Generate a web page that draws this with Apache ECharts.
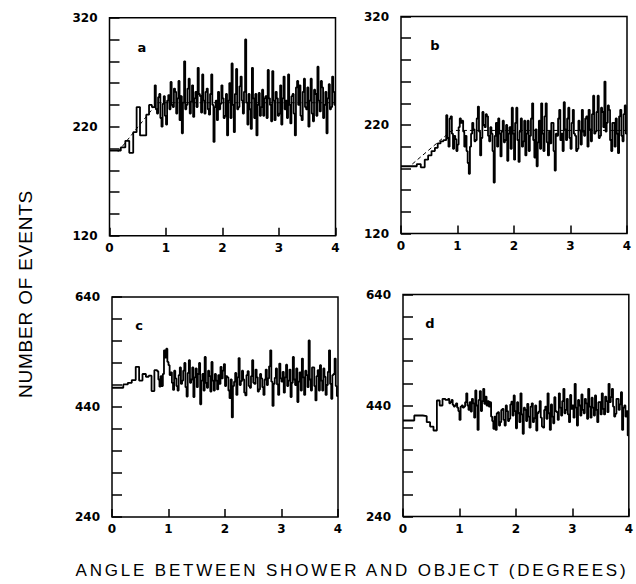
<!DOCTYPE html>
<html>
<head>
<meta charset="utf-8">
<script src="https://cdn.jsdelivr.net/npm/echarts@6/dist/echarts.min.js"></script>
<style>
html, body { margin: 0; padding: 0; background: #fff; }
#main { width: 636px; height: 584px; }
</style>
</head>
<body>
<div id="main"></div>
<script>
// bin left edges (degrees), last entry closes the final bin
let binEdges = [0, 0.2, 0.28, 0.35, 0.42, 0.48, 0.54, 0.6, 0.65, 0.7, 0.75,
    0.8, 0.82, 0.84, 0.86, 0.88, 0.9, 0.92, 0.94, 0.96, 0.98,
    1.0, 1.02, 1.04, 1.06, 1.08, 1.1, 1.12, 1.14, 1.16, 1.18,
    1.2, 1.22, 1.24, 1.26, 1.28, 1.3, 1.32, 1.34, 1.36, 1.38,
    1.4, 1.42, 1.44, 1.46, 1.48, 1.5, 1.52, 1.54, 1.56, 1.58,
    1.6, 1.62, 1.64, 1.66, 1.68, 1.7, 1.72, 1.74, 1.76, 1.78,
    1.8, 1.82, 1.84, 1.86, 1.88, 1.9, 1.92, 1.94, 1.96, 1.98,
    2.0, 2.02, 2.04, 2.06, 2.08, 2.1, 2.12, 2.14, 2.16, 2.18,
    2.2, 2.22, 2.24, 2.26, 2.28, 2.3, 2.32, 2.34, 2.36, 2.38,
    2.4, 2.42, 2.44, 2.46, 2.48, 2.5, 2.52, 2.54, 2.56, 2.58,
    2.6, 2.62, 2.64, 2.66, 2.68, 2.7, 2.72, 2.74, 2.76, 2.78,
    2.8, 2.82, 2.84, 2.86, 2.88, 2.9, 2.92, 2.94, 2.96, 2.98,
    3.0, 3.02, 3.04, 3.06, 3.08, 3.1, 3.12, 3.14, 3.16, 3.18,
    3.2, 3.22, 3.24, 3.26, 3.28, 3.3, 3.32, 3.34, 3.36, 3.38,
    3.4, 3.42, 3.44, 3.46, 3.48, 3.5, 3.52, 3.54, 3.56, 3.58,
    3.6, 3.62, 3.64, 3.66, 3.68, 3.7, 3.72, 3.74, 3.76, 3.78,
    3.8, 3.82, 3.84, 3.86, 3.88, 3.9, 3.92, 3.94, 3.96, 3.98,
    4.0]

let eventsA = [198, 201, 207, 196, 215, 238, 212, 212, 231, 240, 238,
    258, 236, 232, 247, 250, 228, 220, 241, 248, 230,
    222, 244, 249, 236, 261, 240, 238, 255, 252, 232,
    246, 262, 226, 248, 214, 242, 280, 236, 240, 255,
    264, 232, 243, 258, 229, 246, 252, 238, 274, 250,
    248, 233, 268, 244, 232, 252, 255, 236, 231, 250,
    268, 240, 206, 238, 244, 226, 252, 236, 241, 258,
    246, 228, 230, 250, 212, 244, 260, 228, 278, 240,
    215, 250, 273, 236, 238, 257, 266, 244, 232, 252,
    300, 242, 222, 250, 236, 218, 274, 246, 228, 250,
    212, 240, 251, 230, 238, 254, 230, 246, 248, 228,
    272, 246, 240, 225, 271, 244, 226, 252, 246, 230,
    232, 258, 222, 246, 266, 236, 244, 228, 268, 240,
    223, 248, 250, 232, 212, 256, 262, 240, 258, 230,
    226, 252, 264, 238, 236, 256, 220, 244, 264, 232,
    225, 254, 250, 230, 275, 244, 234, 262, 256, 228,
    240, 252, 214, 246, 259, 236, 238, 266, 252, 240]

let eventsB = [182, 182, 184, 181, 188, 192, 196, 199, 203, 205, 206,
    229, 208, 200, 226, 228, 212, 198, 210, 207, 196,
    202, 218, 226, 222, 224, 214, 200, 210, 196, 185,
    175, 200, 212, 222, 216, 205, 206, 226, 237, 214,
    192, 208, 232, 220, 218, 230, 228, 210, 205, 218,
    212, 196, 167, 210, 222, 200, 226, 212, 191, 214,
    224, 204, 206, 220, 187, 212, 218, 198, 236, 212,
    188, 222, 236, 206, 186, 214, 226, 200, 205, 224,
    192, 212, 224, 196, 210, 226, 240, 206, 190, 216,
    182, 204, 224, 198, 240, 212, 196, 228, 240, 204,
    192, 214, 203, 222, 222, 196, 178, 212, 210, 226,
    234, 206, 212, 196, 241, 216, 206, 226, 236, 208,
    198, 222, 234, 212, 210, 196, 198, 224, 215, 202,
    234, 214, 210, 226, 228, 200, 234, 216, 205, 230,
    247, 212, 214, 232, 247, 208, 210, 236, 232, 218,
    260, 214, 222, 238, 234, 206, 196, 222, 222, 200,
    226, 212, 194, 228, 234, 210, 205, 230, 238, 212]

let eventsC = [475, 481, 484, 489, 513, 488, 500, 495, 497, 469, 507,
    505, 490, 477, 496, 478, 500, 543, 530, 546, 522,
    516, 498, 503, 484, 471, 506, 492, 478, 470, 498,
    512, 482, 488, 506, 520, 476, 459, 502, 525, 484,
    490, 512, 458, 494, 510, 476, 500, 520, 445, 488,
    500, 470, 531, 484, 475, 506, 496, 468, 522, 488,
    470, 500, 488, 472, 498, 482, 513, 492, 506, 518,
    478, 496, 494, 470, 456, 490, 421, 478, 486, 502,
    462, 494, 529, 480, 487, 506, 490, 466, 461, 498,
    505, 478, 475, 496, 525, 484, 482, 508, 494, 468,
    472, 500, 492, 476, 462, 490, 508, 480, 492, 514,
    543, 486, 442, 482, 493, 510, 481, 462, 519, 492,
    486, 504, 466, 494, 517, 478, 488, 508, 458, 484,
    531, 490, 480, 510, 449, 486, 503, 470, 528, 494,
    462, 506, 498, 476, 561, 490, 470, 512, 512, 478,
    452, 496, 507, 470, 516, 488, 470, 510, 495, 462,
    480, 504, 543, 482, 455, 498, 500, 528, 478, 460]

let eventsD = [413, 422, 422, 421, 410, 402, 395, 449, 440, 452, 450,
    452, 444, 446, 450, 441, 438, 440, 444, 436, 430,
    414, 438, 440, 436, 438, 446, 462, 440, 432, 446,
    429, 452, 444, 418, 467, 440, 396, 450, 466, 430,
    448, 470, 443, 456, 440, 448, 438, 446, 420, 412,
    398, 420, 396, 426, 428, 404, 410, 432, 434, 414,
    404, 440, 430, 412, 416, 442, 447, 422, 458, 430,
    399, 446, 426, 410, 462, 424, 389, 436, 432, 412,
    443, 420, 400, 438, 444, 410, 417, 440, 395, 426,
    429, 448, 418, 402, 400, 432, 438, 416, 462, 426,
    396, 442, 420, 408, 455, 430, 428, 414, 462, 436,
    422, 448, 470, 426, 432, 452, 424, 410, 459, 434,
    440, 418, 479, 436, 404, 450, 440, 422, 460, 432,
    426, 452, 444, 416, 470, 438, 418, 454, 436, 422,
    458, 432, 410, 446, 446, 424, 462, 434, 424, 456,
    448, 428, 479, 446, 455, 470, 438, 420, 425, 452,
    452, 432, 442, 464, 396, 436, 440, 420, 430, 386]

// expected background (dashed)
let expectedAX = [0.15, 0.85, 4]
let expectedAY = [197, 242, 242]
let expectedBX = [0.2, 0.9, 4]
let expectedBY = [184, 215, 215]

let xTicks = [0, 1, 2, 3, 4]
let yLabelsTop = [120, 220, 320]
let yLabelsBottom = [240, 440, 640]
let panelNames = ['a', 'b', 'c', 'd']

function histPoints(values) {
    let pts = []
    binEdges.forEach(function (x, i) {
        pts.push([x, values[Math.min(i, values.length - 1)]])
    })
    return pts
}

function pairPoints(xs, ys) {
    return xs.map(function (x, i) { return [x, ys[i]] })
}

let labelFont = {
    color: '#000',
    fontFamily: 'DejaVu Sans',
    fontWeight: 'bold',
    fontSize: 12
}

let grids = [
    {left: 109.5, top: 17.7, width: 226, height: 218},
    {left: 401, top: 16.5, width: 226, height: 217},
    {left: 112, top: 297, width: 226, height: 220},
    {left: 403, top: 294.5, width: 226, height: 222}
].map(function (g) {
    return Object.assign({show: true, borderColor: '#000', borderWidth: 1.5, backgroundColor: 'transparent'}, g)
})

let xAxes = grids.map(function (g, i) {
    return {
        type: 'value', gridIndex: i, min: 0, max: 4, interval: 1,
        axisLine: {show: false},
        axisTick: {show: true, inside: true, length: 8, lineStyle: {color: '#000', width: 1.5}},
        splitLine: {show: false},
        axisLabel: Object.assign({margin: 6, formatter: function (v) {
            return xTicks.indexOf(v) >= 0 ? String(v) : ''
        }}, labelFont)
    }
})

let yAxes = grids.map(function (g, i) {
    let top = i < 2
    let labels = top ? yLabelsTop : yLabelsBottom
    return {
        type: 'value', gridIndex: i,
        min: labels[0], max: labels[2], interval: top ? 20 : 40,
        axisLine: {show: false},
        axisTick: {show: true, inside: true, length: 10, lineStyle: {color: '#000', width: 1.5}},
        splitLine: {show: false},
        axisLabel: Object.assign({margin: 12, formatter: function (v) {
            return labels.indexOf(v) >= 0 ? String(v) : ''
        }}, labelFont)
    }
})

let allEvents = [eventsA, eventsB, eventsC, eventsD]
let series = allEvents.map(function (vals, i) {
    return {
        type: 'line', xAxisIndex: i, yAxisIndex: i,
        step: 'end', symbol: 'none', z: 3,
        lineStyle: {color: '#000', width: 1.8},
        data: histPoints(vals)
    }
})
series.push({
    type: 'line', xAxisIndex: 0, yAxisIndex: 0, symbol: 'none', z: 2,
    lineStyle: {color: '#000', width: 1, type: [4, 3]},
    data: pairPoints(expectedAX, expectedAY)
})
series.push({
    type: 'line', xAxisIndex: 1, yAxisIndex: 1, symbol: 'none', z: 2,
    lineStyle: {color: '#000', width: 1, type: [4, 3]},
    data: pairPoints(expectedBX, expectedBY)
})

let letterPos = [[142, 47], [435, 45], [139, 325], [430, 323]]
let graphics = panelNames.map(function (name, i) {
    return {
        type: 'text', x: letterPos[i][0], y: letterPos[i][1],
        style: {text: name, font: 'bold 13px "DejaVu Sans"', fill: '#000', align: 'center', verticalAlign: 'middle'}
    }
})
graphics.push({
    type: 'text', x: 25, y: 294, rotation: Math.PI / 2,
    style: {text: 'NUMBER OF EVENTS', font: '19px "Liberation Sans"', fill: '#000', align: 'center', verticalAlign: 'middle'}
})
graphics.push({
    type: 'text', x: 352, y: 570,
    style: {text: 'ANGLE BETWEEN SHOWER AND OBJECT (DEGREES)', font: '17px "Liberation Sans"', fill: '#000', align: 'center', verticalAlign: 'middle'}
})

let chart = echarts.init(document.querySelector('#main'), null, {renderer: 'svg'})
chart.setOption({
    animation: false,
    backgroundColor: '#fff',
    grid: grids,
    xAxis: xAxes,
    yAxis: yAxes,
    series: series,
    graphic: graphics
})

// spread letters of the axis titles like the lettering of the original
function spreadTitles() {
    document.querySelectorAll('#main svg text').forEach(function (t) {
        if (t.textContent === 'ANGLE BETWEEN SHOWER AND OBJECT (DEGREES)') t.setAttribute('letter-spacing', '2.8px')
        if (t.textContent === 'NUMBER OF EVENTS') t.setAttribute('letter-spacing', '0.8px')
    })
}
chart.on('finished', spreadTitles)
spreadTitles()
</script>
</body>
</html>
